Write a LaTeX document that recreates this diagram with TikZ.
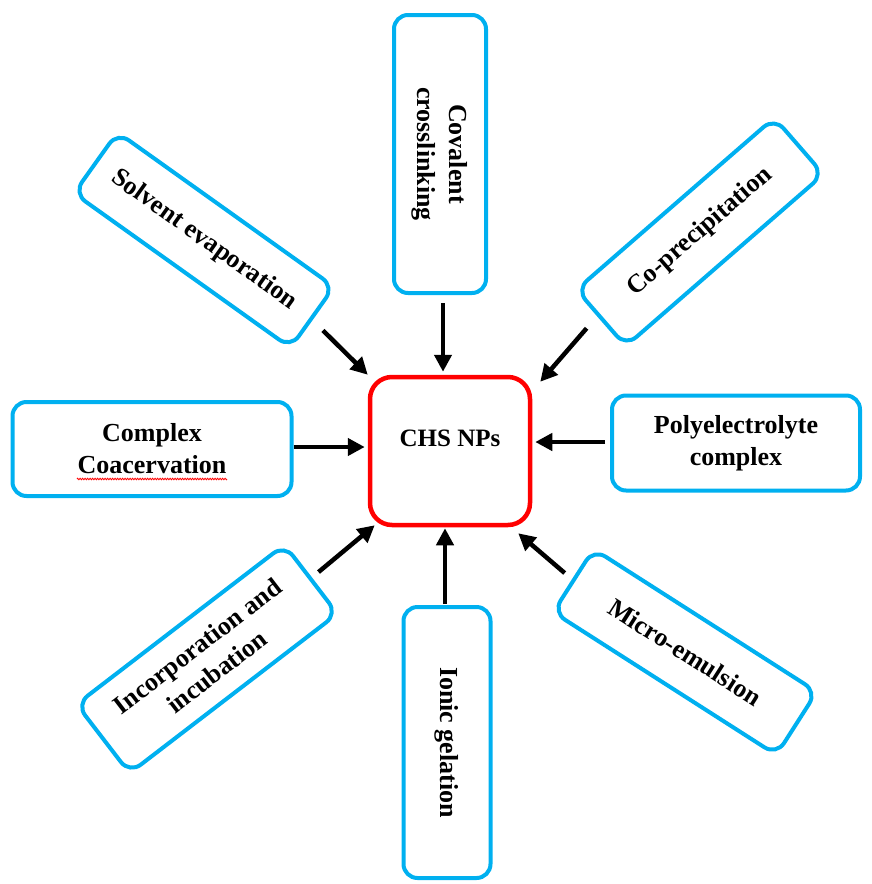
\documentclass[tikz,border=0pt]{standalone}
\usepackage{fontspec}
\setmainfont{Liberation Serif}
\usetikzlibrary{arrows.meta,decorations.pathmorphing}
\definecolor{boxblue}{RGB}{0,176,240}
\begin{document}
\begin{tikzpicture}[x=1pt,y=-1pt,
  mbox/.style={draw=boxblue, line width=4pt, rounded corners=14pt, fill=white,
    align=center, inner sep=0pt, font=\fontsize{26}{32}\selectfont\bfseries},
  hub/.style={draw=red, line width=4.5pt, rounded corners=22pt, fill=white,
    inner sep=0pt, font=\fontsize{25}{30}\selectfont\bfseries},
  arr/.style={line width=4.5pt, -{Triangle[length=17pt,width=17pt]}},
  spell/.style={red, line width=0.8pt, decorate,
    decoration={zigzag, segment length=2.5pt, amplitude=0.8pt}}]
\useasboundingbox (0,0) rectangle (871,884);

\node[hub, minimum width=160pt, minimum height=148pt] (c) at (450,451)
  {\rule[-25pt]{0pt}{25pt}CHS NPs};

\node[mbox, rotate=-90, minimum width=278pt, minimum height=92pt] (cov) at (440,154) {Covalent\\crosslinking};
\node[mbox, rotate=-35.5, minimum width=266pt, minimum height=75pt] (sv) at (204,240) {Solvent evaporation};
\node[mbox, rotate=41, minimum width=262pt, minimum height=75pt] (cp) at (700,232) {Co-precipitation};
\node[mbox, minimum width=279pt, minimum height=94pt] (cc) at (152,449) {Complex\\Coacervation};
\node[mbox, minimum width=248pt, minimum height=95pt] (pe) at (736,443) {Polyelectrolyte\\complex};
\node[mbox, rotate=37.5, minimum width=262pt, minimum height=87pt] (inc) at (207,659) {Incorporation and\\incubation};
\node[mbox, rotate=-90, minimum width=271pt, minimum height=87pt] (ion) at (447,742.5) {Ionic gelation};
\node[mbox, rotate=-32.6, minimum width=265pt, minimum height=75pt] (me) at (685,652) {Micro-emulsion};

\draw[spell] (77,479) -- (227,479);

\draw[arr] ([shift={(9,12)}]sv.east) -- (c.north west);
\draw[arr] ([shift={(3,8)}]cov.east) -- ([shift={(-7,-3)}]c.north);
\draw[arr] ([shift={(-13,9)}]cp.west) -- ([shift={(8,7)}]c.north east);
\draw[arr] ([shift={(0,-2)}]cc.east) -- ([shift={(-3,-4)}]c.west);
\draw[arr] ([shift={(-5,-1)}]pe.west) -- ([shift={(3,-9)}]c.east);
\draw[arr] ([shift={(6,-6)}]inc.east) -- ([shift={(7,-2)}]c.south west);
\draw[arr] ([shift={(-2,-1)}]ion.west) -- ([shift={(-5,1)}]c.south);
\draw[arr] ([shift={(-7,-6.5)}]me.west) -- ([shift={(-14,6)}]c.south east);
\end{tikzpicture}
\end{document}
